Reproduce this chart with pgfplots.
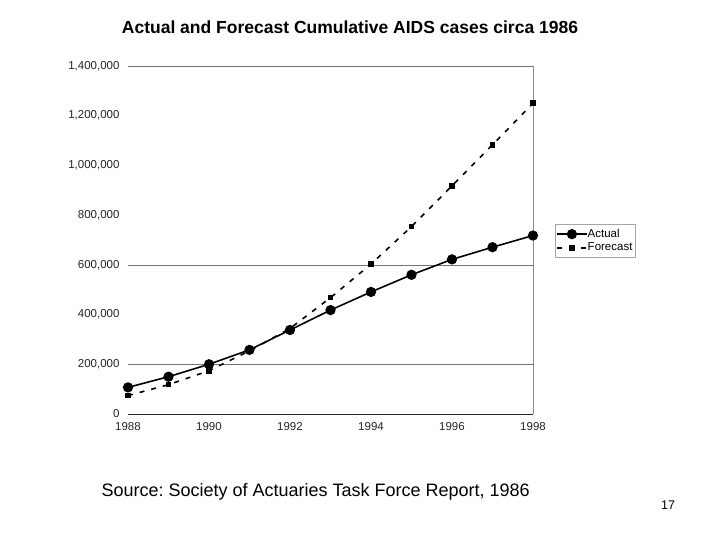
\documentclass[border=0pt]{standalone}
\usepackage{pgfplots}
\pgfplotsset{compat=1.18}
\usepackage{fontspec}
\setmainfont{Liberation Sans}
\frenchspacing
\pgfplotsset{mylegend/.style={legend image code/.code={\draw[mark repeat=2,mark phase=2,##1] plot coordinates {(0pt,0pt) (15pt,0pt) (30pt,0pt)};}}}
\begin{document}
\begin{tikzpicture}[x=1pt,y=1pt]
\useasboundingbox[fill=white] (0,0) rectangle (720,540);
\begin{axis}[
  at={(128pt,126pt)}, anchor=south west,
  scale only axis, width=405pt, height=348pt,
  xmin=1988, xmax=1998, ymin=0, ymax=1400000,
  xtick={1988,1990,...,1998},
  ytick={0,200000,...,1400000},
  scaled y ticks=false,
  yticklabels={0,{200,000},{400,000},{600,000},{800,000},{1,000,000},{1,200,000},{1,400,000}},
  xticklabel style={/pgf/number format/1000 sep={}},
  /pgf/number format/assume math mode=true,
  tick label style={font=\fontsize{11.5}{13}\selectfont, text=black!85},
  major tick length=0pt, tick style={draw=none},
  axis line style={draw=none},
  xticklabel shift=5pt, yticklabel shift=5pt,
  extra y ticks={200000,600000,1400000},
  extra y tick labels={},
  extra y tick style={grid=major, major grid style={draw=black!55, line width=0.6pt}},
  legend style={at={(1.054,0.546)}, anchor=north west, draw=black!35, line width=0.5pt,
    font=\fontsize{11.5}{13}\selectfont, inner xsep=1pt, inner ysep=3pt,
    legend cell align=left, /tikz/every odd column/.append style={column sep=-2pt}},
  clip=false,
]
\draw[black!45, line width=0.6pt] (rel axis cs:1,0) -- (rel axis cs:1,1);
\draw[black!85, line width=0.8pt] (rel axis cs:0,0) -- (rel axis cs:1,0);
\addplot[black, line width=1.6pt, mark=*, mark size=4.3pt, mark options={solid}, mylegend] coordinates {
(1988,107000) (1989,150000) (1990,200000) (1991,258000) (1992,338000) (1993,418000)
(1994,491000) (1995,560000) (1996,622000) (1997,671000) (1998,718000)};
\addlegendentry{Actual}
\addplot[black, line width=1.6pt, dash pattern=on 5pt off 7pt, mark=square*, mark size=2pt, mark options={solid}, mylegend] coordinates {
(1988,74000) (1989,118000) (1990,174000) (1991,254000) (1992,344000) (1993,468000)
(1994,603000) (1995,754000) (1996,918000) (1997,1083000) (1998,1250000)};
\addlegendentry{Forecast}
\end{axis}
\node[anchor=center, font=\fontsize{17.5}{20}\selectfont\bfseries] at (350,513) {Actual and Forecast Cumulative AIDS cases circa 1986};
\node[anchor=west, font=\fontsize{18}{20}\selectfont] at (98,48) {Source: Society of Actuaries Task Force Report, 1986};
\node[anchor=center, font=\fontsize{12.5}{14}\selectfont] at (668,35) {17};
\end{tikzpicture}
\end{document}
